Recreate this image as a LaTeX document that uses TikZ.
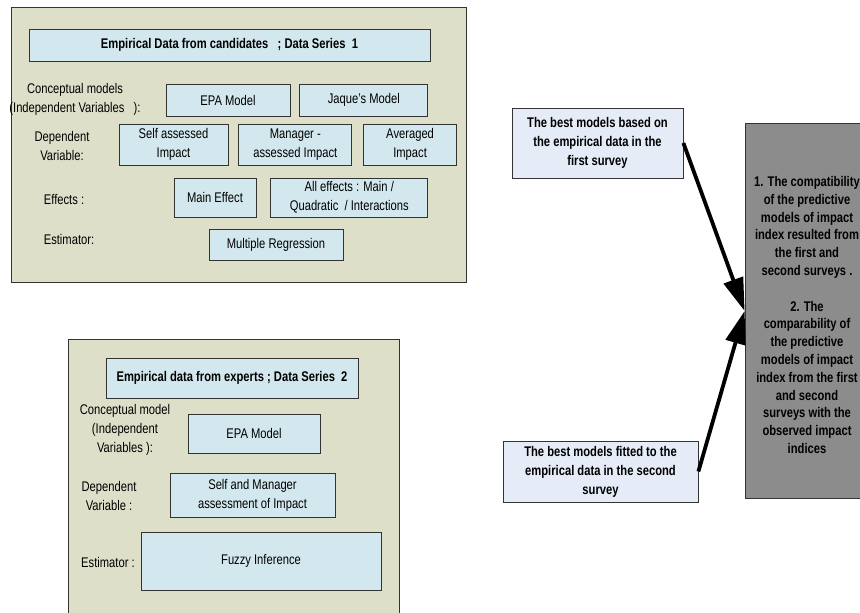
\documentclass[tikz,border=0pt]{standalone}
\usepackage{fontspec}
\setmainfont{Liberation Sans}[FakeStretch=0.8]
\usetikzlibrary{arrows.meta,positioning}
\definecolor{panelfill}{HTML}{DDDFC9}
\definecolor{cellfill}{HTML}{D3E8EE}
\definecolor{notefill}{HTML}{E6ECF7}
\definecolor{resultfill}{HTML}{8C8C8C}
\definecolor{edge}{HTML}{333333}

\begin{document}
\begin{tikzpicture}[
        x=1pt, y=-1pt,
        font=\fontsize{14}{19}\selectfont,
        panel/.style={draw=edge, line width=0.8pt, fill=panelfill},
        cell/.style={draw=edge, line width=0.8pt, fill=cellfill, align=center, inner sep=1pt},
        lbl/.style={align=center, inner sep=0pt},
        note/.style={draw=edge, line width=0.8pt, fill=notefill, align=center, inner sep=1pt, font=\fontsize{14}{19}\selectfont\bfseries},
        result/.style={draw=edge, line width=0.8pt, fill=resultfill, align=center, inner sep=1pt, font=\fontsize{14}{17.8}\selectfont\bfseries},
        link/.style={-{Triangle[length=33pt,width=20pt]}, line width=3.8pt}
    ]
        \useasboundingbox (0,0) rectangle (860,613);
        \clip (0,0) rectangle (860,613);

        % first survey
        \draw[panel] (11,7) rectangle (466,282);
        \node[cell, minimum width=401pt, minimum height=32pt, font=\fontsize{14}{19}\selectfont\bfseries] (t1) at (229.5,45) {Empirical Data from candidates~~~; Data Series~~1};

        \node[lbl] (l1) at (75,99) {Conceptual models\\(Independent Variables~~~):};
        \node[cell, minimum width=124pt, minimum height=32pt] (epa1) at (228,100) {EPA Model};
        \node[cell, minimum width=128pt, minimum height=32pt, right=9pt of epa1] (jaq) {Jaque's Model};

        \node[lbl] (l2) at (62,146) {Dependent\\Variable:};
        \node[cell, minimum width=109pt, minimum height=41pt] (self) at (173.5,144.5) {Self assessed\\Impact};
        \node[cell, minimum width=113pt, minimum height=41pt, right=10pt of self] (mgr) {Manager -\\assessed Impact};
        \node[cell, minimum width=93pt, minimum height=41pt, right=11pt of mgr] (avg) {Averaged\\Impact};

        \node[lbl] (l3) at (64,200) {Effects :};
        \node[cell, minimum width=82pt, minimum height=39pt] (main) at (215,197.5) {Main Effect};
        \node[cell, minimum width=157pt, minimum height=39pt, right=14pt of main] (all) {All effects : Main /\\Quadratic~~/ Interactions};

        \node[lbl] (l4) at (69,239) {Estimator:};
        \node[cell, minimum width=134pt, minimum height=31pt] (reg) at (276,244.5) {Multiple Regression};

        % second survey
        \draw[panel] (68,339) rectangle (399,640);
        \node[cell, minimum width=252pt, minimum height=40pt, font=\fontsize{14}{19}\selectfont\bfseries] (t2) at (232,378) {Empirical data from experts~; Data Series~~2};

        \node[lbl] (k1) at (125,430) {Conceptual model\\(Independent\\Variables ):};
        \node[cell, minimum width=132pt, minimum height=39pt] (epa2) at (254,433.5) {EPA Model};

        \node[lbl] (k2) at (109,496) {Dependent\\Variable :};
        \node[cell, minimum width=165pt, minimum height=44pt] (both) at (252.5,495) {Self and Manager\\assessment of Impact};

        \node[lbl] (k3) at (108,562) {Estimator :};
        \node[cell, minimum width=240pt, minimum height=58pt] (fuzzy) at (261,561) {Fuzzy Inference};

        % comparison
        \node[note, minimum width=171pt, minimum height=70pt] (best1) at (597.5,143) {The best models based on\\the empirical data in the\\first survey};
        \node[note, minimum width=195pt, minimum height=61pt] (best2) at (600.5,471.5) {The best models fitted to the\\empirical data in the second\\survey};
        \node[result, minimum width=124pt, minimum height=375pt] (comp) at (807,311) {\rule{0pt}{18pt}1. The compatibility\\of the predictive\\models of impact\\index resulted from\\the first and\\second surveys .\\[17.8pt]2. The\\comparability of\\the predictive\\models of impact\\index from the first\\and second\\surveys with the\\observed impact\\indices};

        \draw[link] (best1.east) -- (comp.west);
        \draw[link] (best2.east) -- (comp.west);
\end{tikzpicture}
\end{document}
